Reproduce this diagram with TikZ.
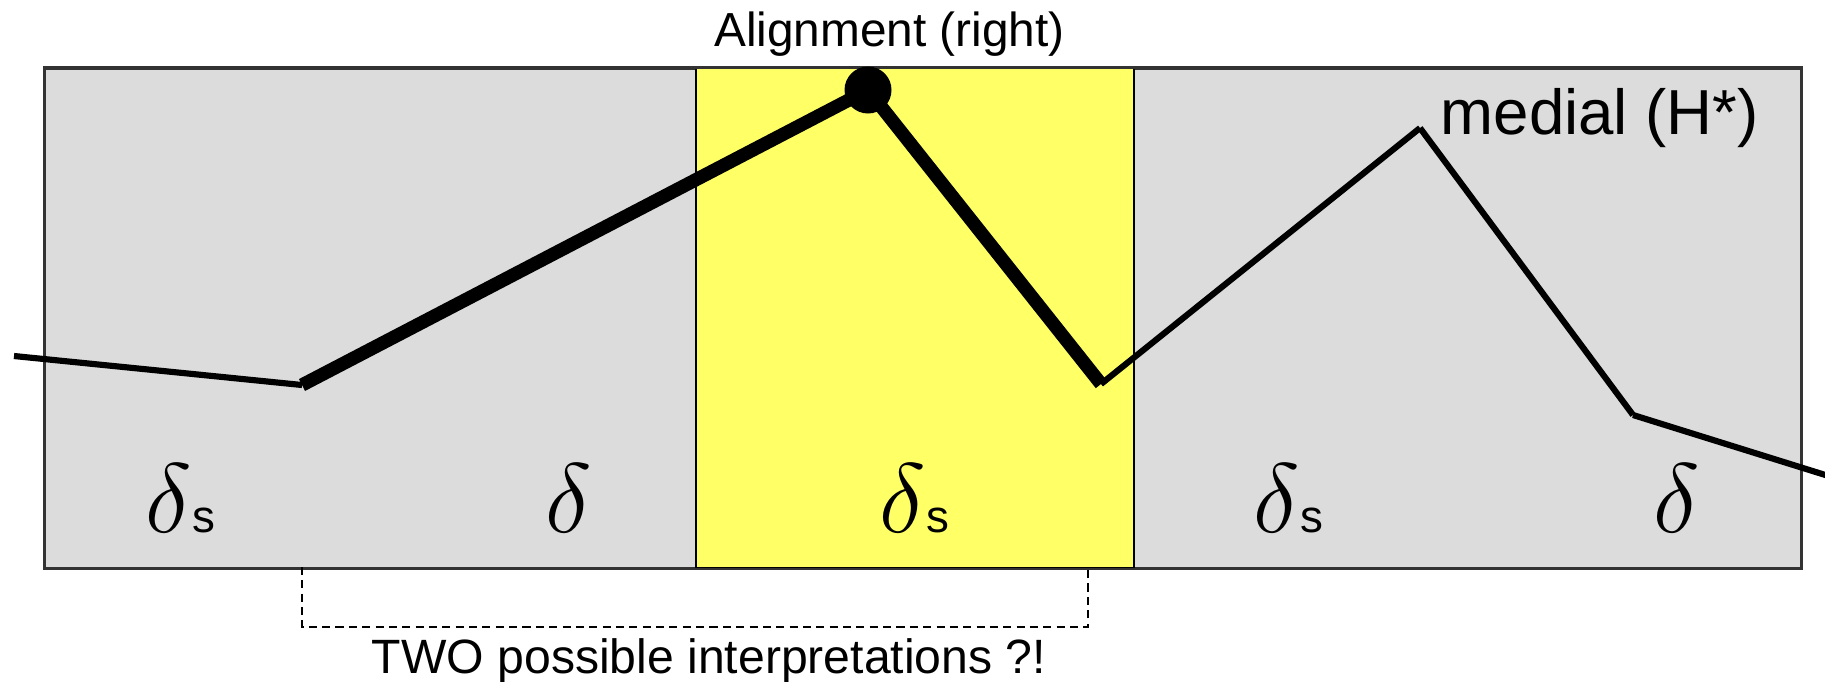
\RequirePackage{fix-cm}
\documentclass[tikz,border=0pt]{standalone}
\usepackage{fontspec}
\setmainfont{Liberation Sans}
\setsansfont{Liberation Sans}
\definecolor{panelgray}{HTML}{DCDCDC}
\definecolor{bordergray}{HTML}{333333}
\definecolor{hiyellow}{HTML}{FFFF66}
\begin{document}
\begin{tikzpicture}[
  panel/.style={fill=panelgray, draw=bordergray, line width=0.6pt, inner sep=0pt, anchor=north west},
  hilite/.style={fill=hiyellow, draw=black, line width=0.5pt, inner sep=0pt, anchor=north west},
  thinseg/.style={line width=1.75pt, line cap=butt},
  thickseg/.style={line width=3.8pt, line cap=butt},
  bracket/.style={line width=0.45pt, dash pattern=on 2.3pt off 1.5pt},
  dlab/.style={inner sep=0pt, anchor=base west},
  txt/.style={inner sep=0pt}
]
\useasboundingbox (0,0) rectangle (18.25,-6.81);
\node (box) [panel, minimum width=17.56cm, minimum height=4.995cm] at (0.44,-0.675) {};
\node (hl) [hilite, minimum width=4.38cm, minimum height=4.995cm] at (6.95,-0.675) {};
\draw[bordergray, line width=0.6pt] (box.north west) rectangle (box.south east);

\coordinate (s0) at (0.14,-3.56);
\coordinate (p1) at (3.02,-3.85);
\coordinate (pk) at (8.68,-0.90);
\coordinate (p3) at (11.01,-3.84);
\coordinate (p4) at (14.20,-1.28);
\coordinate (p5) at (16.33,-4.15);
\coordinate (e) at (18.35,-4.78);

\draw[thinseg] (s0) -- (p1);
\draw[thickseg] (p1) -- (pk);
\draw[thickseg] (pk) -- (p3);
\draw[thinseg] (p3) -- (p4);
\draw[thinseg] (p4) -- (p5);
\draw[thinseg] (p5) -- (e);
\node (dot) [circle, fill=black, minimum size=0.47cm, inner sep=0pt] at (pk) {};

\coordinate (bl) at (3.02,-5.67);
\coordinate (br) at (10.88,-5.67);
\draw[bracket] (bl) -- ++(0,-0.6) -| (br);

\node (d1) [dlab] at (1.45,-5.32) {\fontsize{28}{30}\selectfont$\delta$\fontsize{13}{14}\selectfont s};
\node (d2) [dlab] at (5.45,-5.32) {\fontsize{28}{30}\selectfont$\delta$};
\node (d3) [dlab] at (8.79,-5.32) {\fontsize{28}{30}\selectfont$\delta$\fontsize{13}{14}\selectfont s};
\node (d4) [dlab] at (12.53,-5.32) {\fontsize{28}{30}\selectfont$\delta$\fontsize{13}{14}\selectfont s};
\node (d5) [dlab] at (16.53,-5.32) {\fontsize{28}{30}\selectfont$\delta$};

\node (align) [txt, anchor=base] at (8.895,-0.467) {\fontsize{13.6}{15}\selectfont Alignment (right)};
\node (medial) [txt, anchor=base west] at (14.40,-1.34) {\fontsize{18.1}{20}\selectfont medial (H*)};
\node (two) [txt, anchor=base] at (7.09,-6.73) {\fontsize{13.7}{15}\selectfont TWO possible interpretations ?!};
\end{tikzpicture}
\end{document}
